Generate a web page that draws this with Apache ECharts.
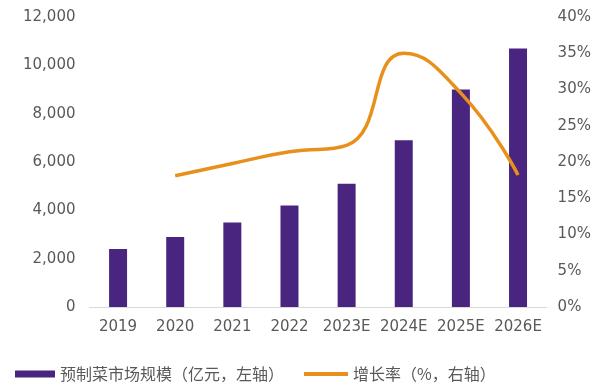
<!DOCTYPE html>
<html><head><meta charset="utf-8">
<script src="https://cdn.jsdelivr.net/npm/echarts@6/dist/echarts.min.js"></script>
<style>html,body{margin:0;padding:0;background:#fff}#c{width:606px;height:390px}</style>
</head><body><div id="c"></div>
<script>
const categories = ['2019','2020','2021','2022','2023E','2024E','2025E','2026E'];
const marketSize = [2400, 2900, 3500, 4200, 5100, 6900, 9000, 10700];
const growthRate = [null, 18.1, 19.8, 21.4, 22.3, 35.0, 29.5, 18.2];
const leftTicks = [0, 2000, 4000, 6000, 8000, 10000, 12000];
const rightTicks = [0, 5, 10, 15, 20, 25, 30, 35, 40];
const barName = '预制菜市场规模（亿元，左轴）';
const lineName = '增长率（%，右轴）';

const chart = echarts.init(document.getElementById('c'));
const txt = {color:'#595959', fontSize:15, fontFamily:'DejaVu Sans, sans-serif'};
const legTxt = {color:'#595959', fontSize:16, fontFamily:'Noto Sans CJK SC'};
chart.setOption({
  animation:false,
  grid:{left:89.5, right:59.4, top:17, bottom:83},
  legend:[
    {data:[{name:barName, icon:'rect'}], left:15, top:366, padding:0, itemWidth:40, itemHeight:7, itemGap:7, textStyle:legTxt},
    {data:[{name:lineName, icon:'rect', itemStyle:{color:'#E8901C'}}], left:304, top:366, padding:0, itemWidth:44, itemHeight:4, itemGap:5, textStyle:legTxt}
  ],
  xAxis:{type:'category', data:categories,
    axisLine:{lineStyle:{color:'#d9d9d9', width:1}}, axisTick:{show:false},
    axisLabel:Object.assign({margin:13, interval:0}, txt)},
  yAxis:[
    {type:'value', min:leftTicks[0], max:leftTicks[leftTicks.length-1], interval:2000,
     splitLine:{show:false}, axisLine:{show:false}, axisTick:{show:false},
     axisLabel:Object.assign({margin:14, formatter:v=>v.toLocaleString('en-US')}, txt)},
    {type:'value', min:rightTicks[0], max:rightTicks[rightTicks.length-1], interval:5,
     splitLine:{show:false}, axisLine:{show:false}, axisTick:{show:false},
     axisLabel:Object.assign({margin:11, formatter:v=>v+'%'}, txt)}
  ],
  series:[
    {name:barName, type:'bar', data:marketSize, barWidth:18, itemStyle:{color:'#4A2580'}},
    {name:lineName, type:'line', yAxisIndex:1, data:growthRate, smooth:0.5, symbol:'none',
     lineStyle:{color:'#E8901C', width:3.5}, itemStyle:{color:'#E8901C'}}
  ]
});
</script></body></html>
